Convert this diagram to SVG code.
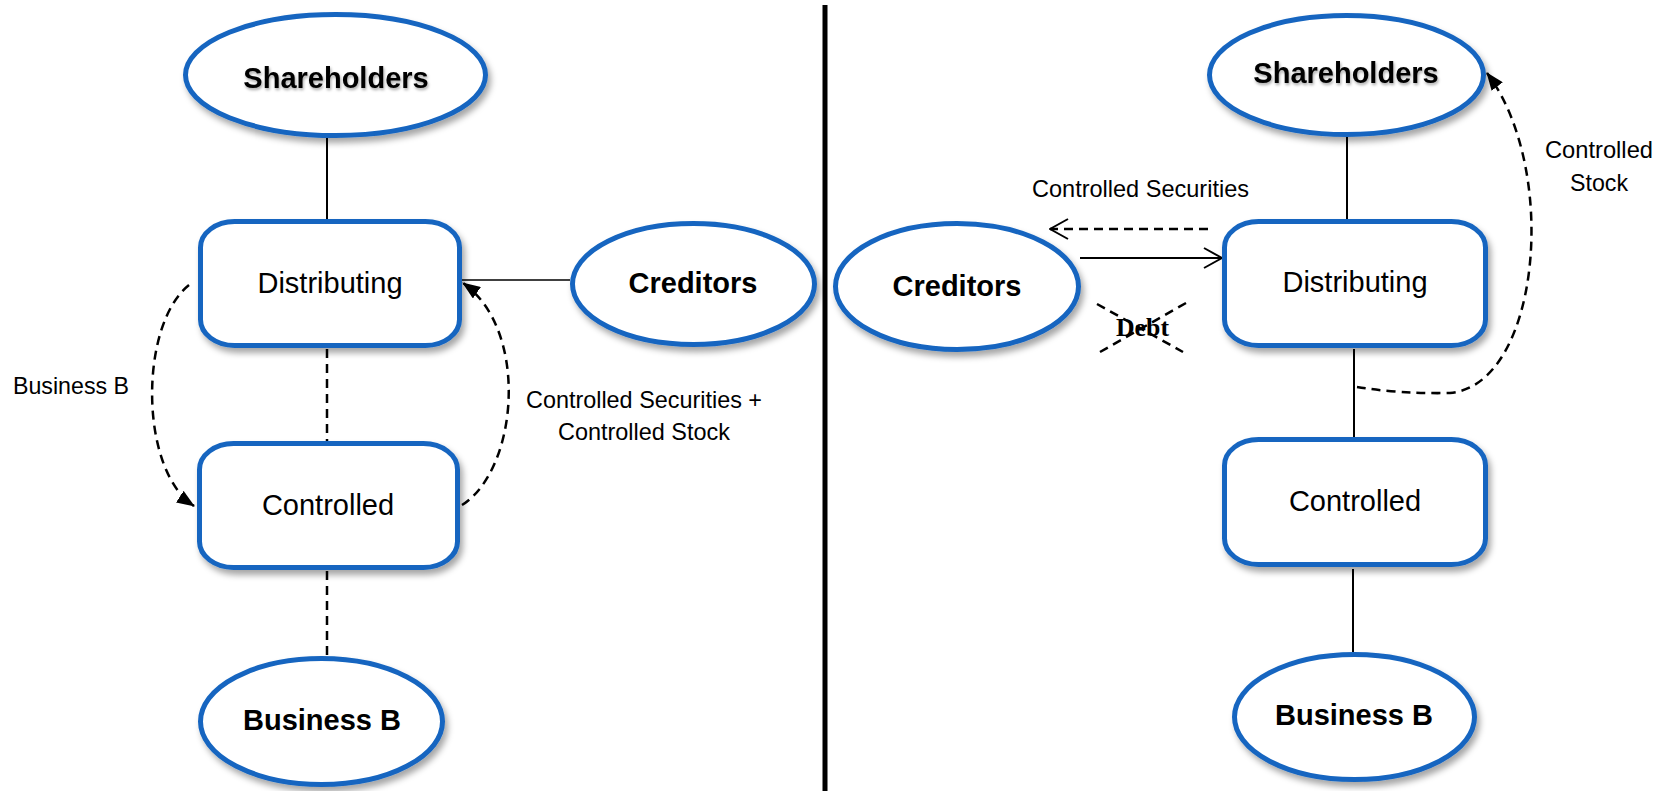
<svg xmlns="http://www.w3.org/2000/svg" width="1669" height="791" viewBox="0 0 1669 791">
<style>
.node{fill:#fff;stroke:#1565c0;stroke-width:5;filter:url(#sh)}
.bt{font-family:"Liberation Sans",Arial,sans-serif;font-weight:bold;font-size:29px;text-anchor:middle;fill:#000}
.rt{font-family:"Liberation Sans",Arial,sans-serif;font-size:29px;text-anchor:middle;fill:#000}
.lab{font-family:"Liberation Sans Narrow","Arial Narrow","Liberation Sans",Arial,sans-serif;font-size:24px;fill:#000}
.ln{stroke:#000;stroke-width:2;fill:none}
.dl{stroke:#000;stroke-width:2.5;fill:none;stroke-dasharray:9 6}
</style>
<defs>
<filter id="sh" x="-20%" y="-20%" width="140%" height="150%">
<feDropShadow dx="3" dy="5" stdDeviation="3" flood-color="#000" flood-opacity="0.35"/>
</filter>
<filter id="tsh" x="-10%" y="-30%" width="120%" height="160%">
<feDropShadow dx="1" dy="2" stdDeviation="1.5" flood-color="#000" flood-opacity="0.35"/>
</filter>
<marker id="fa" viewBox="0 0 18 14" refX="17" refY="7" markerWidth="18" markerHeight="14" markerUnits="userSpaceOnUse" orient="auto">
<path d="M0,0 L18,7 L0,14 Z" fill="#000"/>
</marker>
<marker id="oa" viewBox="0 0 20 22" refX="19" refY="11" markerWidth="20" markerHeight="22" markerUnits="userSpaceOnUse" orient="auto">
<path d="M1,1 L19,11 L1,21" fill="none" stroke="#000" stroke-width="2"/>
</marker>
</defs>

<rect x="822.5" y="5" width="5" height="786" fill="#000"/>

<g id="connectors">
<line class="ln" x1="327" y1="138" x2="327" y2="220"/>
<line class="dl" x1="327" y1="349" x2="327" y2="441"/>
<line class="dl" x1="327" y1="571" x2="327" y2="656"/>
<line stroke="#000" stroke-width="1.5" x1="462" y1="280" x2="570" y2="280"/>
<path class="dl" d="M189,285 C139,325 139,470 194,506" marker-end="url(#fa)"/>
<path class="dl" d="M462,505 C518,470 530,330 463,283" marker-end="url(#fa)"/>

<line class="ln" x1="1347" y1="137" x2="1347" y2="220"/>
<line class="ln" x1="1354" y1="349" x2="1354" y2="437"/>
<line class="ln" x1="1353" y1="569" x2="1353" y2="652"/>
<path class="dl" d="M1208,229 L1050,229" marker-end="url(#oa)"/>
<path class="ln" d="M1080,258 L1222,258" marker-end="url(#oa)"/>
<path class="dl" d="M1357,387 Q1400,394 1450,393 C1540,385 1560,170 1487,73" marker-end="url(#fa)"/>
<line class="dl" x1="1097" y1="304" x2="1183" y2="352"/>
<line class="dl" x1="1186" y1="303" x2="1100" y2="352"/>
</g>

<g id="l-shareholders">
<ellipse class="node" cx="335.5" cy="75" rx="150" ry="60.5"/>
<text class="bt" x="336" y="88" filter="url(#tsh)">Shareholders</text>
</g>
<g id="l-distributing">
<rect class="node" x="200.5" y="221.5" width="259" height="124" rx="34" ry="26"/>
<text class="rt" x="330" y="293">Distributing</text>
</g>
<g id="l-controlled">
<rect class="node" x="199.5" y="443.5" width="258" height="124" rx="34" ry="26"/>
<text class="rt" x="328" y="515">Controlled</text>
</g>
<g id="l-creditors">
<ellipse class="node" cx="693.5" cy="284" rx="121" ry="60.5"/>
<text class="bt" x="693" y="293">Creditors</text>
</g>
<g id="l-businessb">
<ellipse class="node" cx="321.5" cy="721.5" rx="121" ry="63"/>
<text class="bt" x="322" y="730">Business B</text>
</g>

<g id="r-shareholders">
<ellipse class="node" cx="1346.5" cy="75" rx="137" ry="59.5"/>
<text class="bt" x="1346" y="83" filter="url(#tsh)">Shareholders</text>
</g>
<g id="r-creditors">
<ellipse class="node" cx="957" cy="286.5" rx="121.5" ry="63"/>
<text class="bt" x="957" y="296">Creditors</text>
</g>
<g id="r-distributing">
<rect class="node" x="1224.5" y="221.5" width="261" height="124" rx="34" ry="26"/>
<text class="rt" x="1355" y="292">Distributing</text>
</g>
<g id="r-controlled">
<rect class="node" x="1224.5" y="439.5" width="261" height="125" rx="34" ry="26"/>
<text class="rt" x="1355" y="511">Controlled</text>
</g>
<g id="r-businessb">
<ellipse class="node" cx="1354.5" cy="717" rx="120" ry="62.5"/>
<text class="bt" x="1354" y="725">Business B</text>
</g>

<g id="labels">
<text class="lab" x="13" y="394" textLength="116" lengthAdjust="spacingAndGlyphs">Business B</text>
<text class="lab" x="526" y="408" textLength="236" lengthAdjust="spacingAndGlyphs">Controlled Securities +</text>
<text class="lab" x="558" y="440" textLength="172" lengthAdjust="spacingAndGlyphs">Controlled Stock</text>
<text class="lab" x="1032" y="197" textLength="217" lengthAdjust="spacingAndGlyphs">Controlled Securities</text>
<text class="lab" x="1545" y="158" textLength="108" lengthAdjust="spacingAndGlyphs">Controlled</text>
<text class="lab" x="1570" y="191" textLength="58" lengthAdjust="spacingAndGlyphs">Stock</text>
<text x="1116" y="336" font-family="'Liberation Serif','Times New Roman',serif" font-weight="bold" font-size="26" textLength="53" lengthAdjust="spacingAndGlyphs">Debt</text>
</g>
</svg>
